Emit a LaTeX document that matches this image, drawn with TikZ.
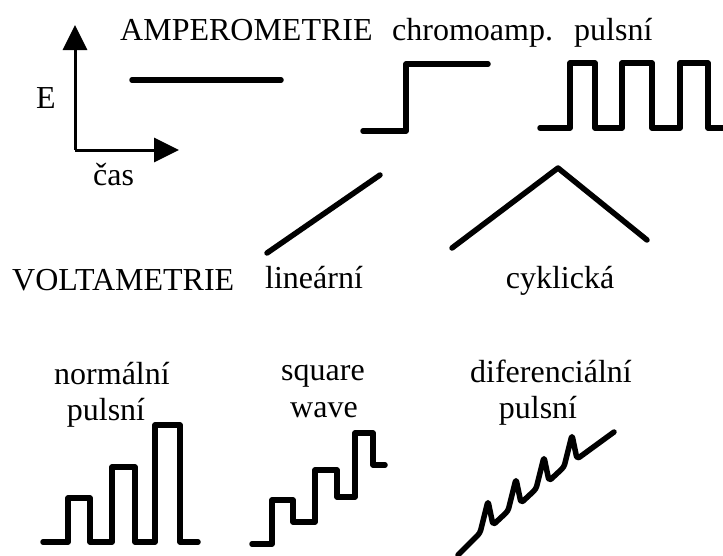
\documentclass[tikz,border=0pt]{standalone}
\usepackage{fontspec}
\setmainfont{Liberation Serif}
\usetikzlibrary{arrows.meta}
\begin{document}
\begin{tikzpicture}[x=1pt,y=-1pt,
  lbl/.style={inner sep=0pt,font=\fontsize{32}{36}\selectfont},
  wave/.style={line width=5.5pt,line cap=round,line join=round},
  axis/.style={line width=3pt,-{Triangle[length=25pt,width=24pt]}}]
\useasboundingbox (0,0) rectangle (723,555);
% axes
\coordinate (o) at (75,150);
\coordinate (ytip) at (75,25);
\coordinate (xtip) at (179,150);
\draw[axis] (o) -- (ytip);
\draw[axis] (o) -- (xtip);
\node[lbl,anchor=base west] (E) at (36,108) {E};
\node[lbl,anchor=base west] (cas) at (93,185) {čas};
% headings
\node[lbl,anchor=base west] (amp) at (120,40) {AMPEROMETRIE};
\node[lbl,anchor=base west] (chrom) at (392,40) {chromoamp.};
\node[lbl,anchor=base west] (puls) at (574,40) {pulsní};
% amperometry
\draw[wave] (132,80) -- (281,80);
% chronoamp step
\draw[wave] (363,131) -- (406,131) -- (406,64) -- (488,64);
% pulses
\draw[wave] (540,128) -- (570,128) -- (570,63) -- (595,63) -- (595,128) -- (622,128) -- (622,63) -- (652,63) -- (652,128) -- (680,128) -- (680,63) -- (708,63) -- (708,128) -- (726,128);
% voltammetry
\node[lbl,anchor=base west] (volt) at (12,290) {VOLTAMETRIE};
\node[lbl,anchor=base west] (lin) at (265,288) {lineární};
\node[lbl,anchor=base] (cyk) at (560,288) {cyklická};
\draw[wave] (267,253) -- (380,175);
\draw[wave] (452,248) -- (558,168) -- (647,240);
% normal pulse
\node[lbl,anchor=base] (np1) at (112,384) {normální};
\node[lbl,anchor=base] (np2) at (106,420) {pulsní};
\draw[wave] (43,542) -- (68,542) -- (68,498) -- (90,498) -- (90,542) -- (112,542) -- (112,467) -- (135,467) -- (135,542) -- (155,542) -- (155,425) -- (180,425) -- (180,542) -- (198,542);
% square wave
\node[lbl,anchor=base] (sq1) at (323,380) {square};
\node[lbl,anchor=base] (sq2) at (324,417) {wave};
\draw[wave] (252,544) -- (272,544) -- (272,500) -- (293,500) -- (293,522) -- (315,522) -- (315,470) -- (337,470) -- (337,497) -- (355,497) -- (355,433) -- (373,433) -- (373,465) -- (385,465);
% differential pulse
\node[lbl,anchor=base] (dp1) at (551,382) {diferenciální};
\node[lbl,anchor=base] (dp2) at (538,418) {pulsní};
\draw[wave,rounded corners=3pt] (458,555) -- (480,533) -- (488,501) -- (493,525) -- (508,511) -- (516,479) -- (521,503) -- (536,489) -- (544,457) -- (549,481) -- (564,467) -- (572,435) -- (577,459) -- (614,432);
\end{tikzpicture}
\end{document}
